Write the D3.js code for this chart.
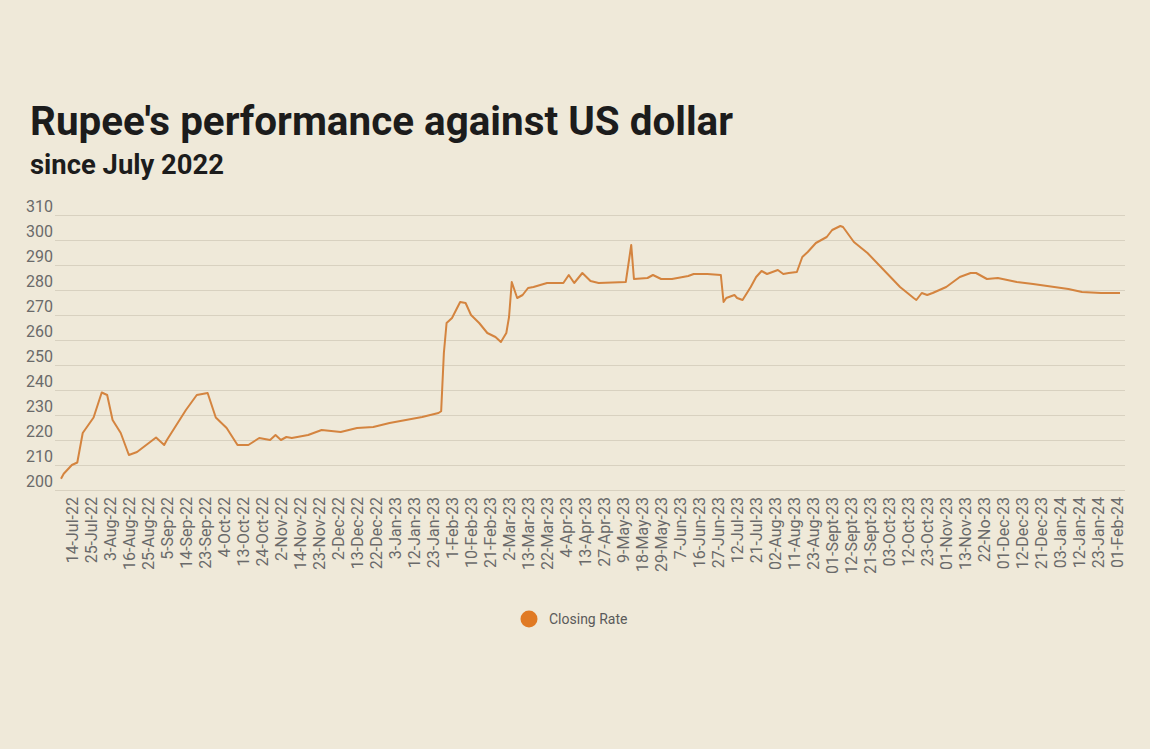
<!DOCTYPE html>
<html>
<head>
<meta charset="utf-8">
<script src="https://cdn.jsdelivr.net/npm/d3@7"></script>
<style>
  html, body { margin: 0; padding: 0; background: #efe9d9; }
  svg { display: block; }
  .title { font-family: Roboto, "Noto Sans", sans-serif; font-weight: 700; fill: #1c1c1c; }
  .axis text { font-family: Roboto, "Noto Sans", sans-serif; fill: #6a6a6a; }
</style>
</head>
<body>
<svg id="chart" width="1150" height="749"></svg>
<script>
// Interbank closing rate, PKR per USD, indexed by trading day
const tickLabels = [
  "14-Jul-22","25-Jul-22","3-Aug-22","16-Aug-22","25-Aug-22","5-Sep-22","14-Sep-22","23-Sep-22",
  "4-Oct-22","13-Oct-22","24-Oct-22","2-Nov-22","14-Nov-22","23-Nov-22","2-Dec-22","13-Dec-22",
  "22-Dec-22","3-Jan-23","12-Jan-23","23-Jan-23","1-Feb-23","10-Feb-23","21-Feb-23","2-Mar-23",
  "13-Mar-23","22-Mar-23","4-Apr-23","13-Apr-23","27-Apr-23","9-May-23","18-May-23","29-May-23",
  "7-Jun-23","16-Jun-23","27-Jun-23","12-Jul-23","21-Jul-23","02-Aug-23","11-Aug-23","23-Aug-23",
  "01-Sept-23","12-Sept-23","21-Sept-23","03-Oct-23","12-Oct-23","23-Oct-23","01-Nov-23","13-Nov-23",
  "22-No-23","01-Dec-23","12-Dec-23","21-Dec-23","03-Jan-24","12-Jan-24","23-Jan-24","01-Feb-24"
];
const firstLabelDay = 4;     // trading day of the first labelled date
const labelEvery = 7;        // a label every 7 trading days
const lastDay = 390;

const tradingDay = [
  0,1,4,6,8,12,15,17,19,22,25,28,35,38,39,46,50,54,57,61,65,69,73,77,79,81,83,85,91,96,
  103,109,115,121,127,133,139,140,141,142,144,147,149,151,154,157,160,162,164,165,166,168,170,172,174,179,185,187,189,192,
  195,198,208,210,211,216,218,221,225,231,233,238,243,244,245,248,249,251,254,256,258,260,264,266,268,271,273,275,278,282,
  284,287,288,292,297,303,309,314,315,317,319,321,326,331,335,337,341,345,352,358,371,376,383,390
];
const closingRate = [
  204.5,206.5,210.0,211.0,222.8,229.0,239.0,238.0,228.0,222.8,214.0,215.2,221.0,218.0,220.0,232.0,238.0,238.8,229.0,224.8,218.0,218.0,220.8,220.0,222.0,220.0,221.2,220.8,222.0,224.0,
  223.2,224.8,225.2,226.8,228.0,229.2,230.8,231.5,254.8,266.8,268.8,275.2,274.8,270.0,266.8,262.8,261.2,259.2,262.8,269.2,283.2,276.8,278.0,280.8,281.2,282.8,282.8,286.0,282.8,286.8,
  283.6,282.8,283.2,298.0,284.4,284.8,286.0,284.4,284.4,285.6,286.4,286.4,286.0,275.2,276.8,278.0,276.8,276.0,281.2,285.2,287.6,286.4,288.0,286.4,286.8,287.2,293.2,295.2,298.8,301.2,
  304.0,305.6,305.2,299.2,294.8,288.0,281.2,276.8,276.0,278.8,278.0,278.8,281.2,285.2,286.8,286.8,284.4,284.8,283.2,282.4,280.4,279.2,278.8,278.8
];
const yTicks = [200,210,220,230,240,250,260,270,280,290,300,310];
const seriesName = "Closing Rate";

const svg = d3.select("#chart");

// Heading
svg.append("text").attr("class", "title")
  .attr("x", 30).attr("y", 135)
  .attr("font-size", 40)
  .attr("textLength", 703).attr("lengthAdjust", "spacingAndGlyphs")
  .text("Rupee's performance against US dollar");
svg.append("text").attr("class", "title")
  .attr("x", 30).attr("y", 174)
  .attr("font-size", 27)
  .attr("textLength", 194).attr("lengthAdjust", "spacingAndGlyphs")
  .text("since July 2022");

// Scales
const x = d3.scaleLinear().domain([0, lastDay]).range([61, 1120]);
const y = d3.scaleLinear().domain([200, 310]).range([490, 215]);

// Horizontal gridlines
svg.append("g").selectAll("line").data(yTicks).join("line")
  .attr("x1", 55).attr("x2", 1125)
  .attr("y1", d => y(d) + 0.5).attr("y2", d => y(d) + 0.5)
  .attr("stroke", "#d8d1c0").attr("stroke-width", 1);

// Y axis labels, sitting just above their gridline
const yAxis = svg.append("g").attr("class", "axis")
  .attr("transform", "translate(53,0)")
  .call(d3.axisLeft(y).tickValues(yTicks).tickSize(0).tickPadding(0).tickFormat(d3.format("d")));
yAxis.select(".domain").remove();
yAxis.selectAll("text").attr("font-size", 16).attr("dy", "-0.2em");

// X axis: rotated date labels
const tickDays = tickLabels.map((_, i) => firstLabelDay + i * labelEvery);
const xAxis = svg.append("g").attr("class", "axis")
  .attr("transform", "translate(0,490)")
  .call(d3.axisBottom(x).tickValues(tickDays).tickSize(0)
    .tickFormat((d, i) => tickLabels[i]));
xAxis.select(".domain").remove();
xAxis.selectAll("text")
  .attr("font-size", 16)
  .attr("text-anchor", "end")
  .attr("transform", "rotate(-90)")
  .attr("x", -7).attr("y", 0).attr("dy", "0.35em");

// Rate line
const data = tradingDay.map((d, i) => ({ day: d, rate: closingRate[i] }));
const line = d3.line().x(d => x(d.day)).y(d => y(d.rate));
svg.append("path").datum(data)
  .attr("d", line)
  .attr("fill", "none")
  .attr("stroke", "#d4843f")
  .attr("stroke-width", 2)
  .attr("stroke-linejoin", "round");

// Legend
const legend = svg.append("g").attr("transform", "translate(529,619)");
legend.append("circle").attr("r", 8.5).attr("fill", "#e07a24");
legend.append("text").attr("x", 20).attr("dy", "0.35em")
  .attr("font-family", "Roboto, 'Noto Sans', sans-serif")
  .attr("font-size", 14).attr("fill", "#5a5a5a")
  .text(seriesName);
</script>
</body>
</html>
